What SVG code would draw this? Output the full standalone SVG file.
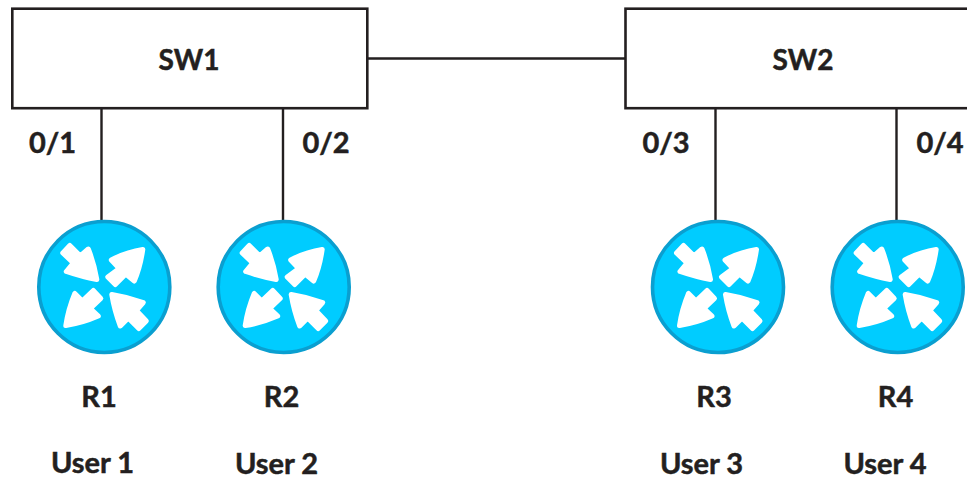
<svg xmlns="http://www.w3.org/2000/svg" width="967" height="478" viewBox="0 0 967 478">
<style>
text{font-family:"Lato","Open Sans","Liberation Sans",sans-serif;font-weight:700;font-size:29px;fill:#231f20;stroke:#231f20;stroke-width:.5;text-anchor:middle}
.sw{font-size:28px}
.box{fill:#fff;stroke:#231f20;stroke-width:2.6}
.ln{fill:none;stroke:#231f20;stroke-width:2.4}
.disc{fill:#00ccff;stroke:#0a9fd0;stroke-width:3.6}
.arr{fill:#fff;stroke:#fff;stroke-width:5;stroke-linejoin:round}
</style>
<defs>
<g id="router">
<circle class="disc" r="65.5"/>
<path class="arr" d="M-7.500-7.500Q-10-23-16-38L-24-31-34.500-41.500-41.500-34-31-24-38-15.500Q-22-10-7.500-7.500Z"/>
<path class="arr" d="M38.500-37.500Q22-35 7-27L15-18.500 3.500-10 11-2.500 21.500-13 30-6Q36-20 38.500-37.500Z"/>
<path class="arr" d="M-38.500 38.500Q-22 36-6 29L-14 21.500-3.500 11.500-11 3.500-22 14-29.500 6.500Q-36 22-38.500 38.500Z"/>
<path class="arr" d="M7.500 7.500Q10 23 16 39L24 31 34.500 41.500 42 34 32 23.500 39 15.500Q23 10 7.500 7.500Z"/>
</g>
</defs>
<g id="connectors">
<path class="ln" d="M367 58.500H625M101.500 108V221M283 108V221M715.500 108V221M896.500 108V221"/>
</g>
<g id="SW1"><rect class="box" x="12.300" y="8.700" width="355" height="99.500"/><text class="sw" x="189" y="70">SW1</text></g>
<g id="SW2"><rect class="box" x="625.500" y="8.700" width="355" height="99.500"/><text class="sw" x="803" y="70">SW2</text></g>
<g id="port-0-1"><text x="52.500" y="153">0/1</text></g>
<g id="port-0-2"><text x="326" y="153">0/2</text></g>
<g id="port-0-3"><text x="666" y="153">0/3</text></g>
<g id="port-0-4"><text x="940" y="153">0/4</text></g>
<g id="R1"><use href="#router" x="104.300" y="287"/><text x="99" y="406.500">R1</text><text x="92.500" y="473">User 1</text></g>
<g id="R2"><use href="#router" x="283.700" y="287"/><text x="281.500" y="406.500">R2</text><text x="276.500" y="473.500">User 2</text></g>
<g id="R3"><use href="#router" x="718" y="287"/><text x="714" y="406.500">R3</text><text x="701.500" y="473.500">User 3</text></g>
<g id="R4"><use href="#router" x="897.700" y="287"/><text x="895.500" y="406.500">R4</text><text x="885" y="473.500">User 4</text></g>
</svg>
